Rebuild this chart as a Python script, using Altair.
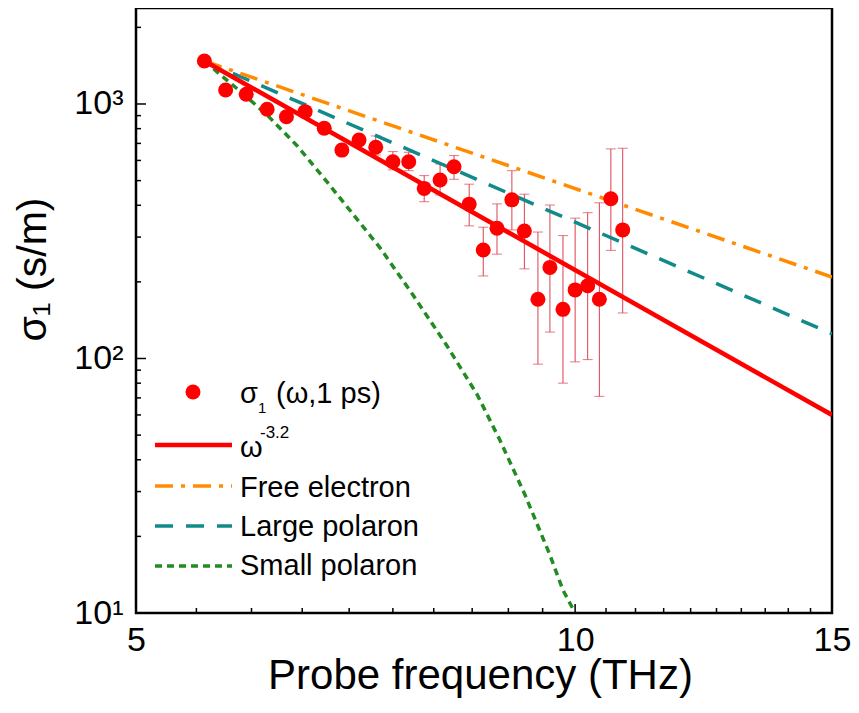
import altair as alt
import pandas as pd

# ---------------- data ----------------
freq = [5.57, 5.76, 5.95, 6.15, 6.34, 6.53, 6.73, 6.92, 7.11, 7.30, 7.50, 7.69, 7.88, 8.08,
        8.26, 8.46, 8.65, 8.84, 9.05, 9.23, 9.43, 9.61, 9.81, 10.00, 10.20, 10.39, 10.58, 10.78]
sigma = [1476, 1135, 1092, 953, 891, 933, 803, 659, 722, 676, 593, 593, 466, 503,
         567, 404, 267, 325, 420, 317, 171, 228, 156, 186, 193, 171, 424, 320]
sigma_hi = [1530, 1180, 1135, 990, 930, 975, 840, 690, 755, 749, 650, 646, 523, 581,
            627, 484, 328, 405, 547, 442, 314, 401, 304, 356, 374, 409, 666, 670]
sigma_lo = [1420, 1090, 1050, 915, 855, 895, 770, 630, 690, 630, 551, 547, 413, 439,
            506, 332, 211, 257, 320, 225, 95, 127, 80, 97, 99, 71, 266, 151]

fit_x = [5.57, 15.0]
fit_y = [1476, 60]
free_x = [5.57, 15.0]
free_y = [1476, 209]
large_x = [5.57, 15.0]
large_y = [1476, 125]
small_x = [5.57, 5.68, 5.89, 6.15, 6.45, 6.76, 7.04, 7.35, 7.74, 8.17, 8.57, 8.88, 9.24, 9.61, 9.81, 10.0]
small_y = [1476, 1340, 1125, 905, 684, 494, 370, 272, 178, 112, 71.9, 47.8, 29.1, 16.9, 12.3, 10]

x_major = [5, 10, 15]
x_tick_labels = ["5", "10", "15"]
x_minor = [5.5, 6, 6.5, 7, 7.5, 8, 8.5, 9, 9.5, 10.5, 11, 11.5, 12, 12.5, 13, 13.5, 14, 14.5]
y_major = [10, 100, 1000]
y_tick_labels = ["10¹", "10²", "10³"]
y_minor = [20, 30, 40, 50, 60, 70, 80, 90, 200, 300, 400, 500, 600, 700, 800, 900, 2000]

# ---------------- styling ----------------
W, H = 696, 605
FONT = "Liberation Sans, Arial, sans-serif"
RED = "#ff0000"
ERR = "#d8404e"
ORANGE = "#ff8c00"
TEAL = "#138a8a"
GREEN = "#228b22"

xs = alt.Scale(type="log", domain=[5, 15], nice=False, zero=False)
ys = alt.Scale(type="log", domain=[10, 2383], nice=False, zero=False)

pts = pd.DataFrame({"f": freq, "s": sigma, "hi": sigma_hi, "lo": sigma_lo})

label_expr = " : ".join(
    [f"datum.value == {v} ? '{t}'" for v, t in zip(y_major[:-1], y_tick_labels[:-1])]
) + f" : '{y_tick_labels[-1]}'"
x_label_expr = " : ".join(
    [f"datum.value == {v} ? '{t}'" for v, t in zip(x_major[:-1], x_tick_labels[:-1])]
) + f" : '{x_tick_labels[-1]}'"

x_axis = alt.Axis(values=x_major, labelExpr=x_label_expr, ticks=False, domain=False, grid=False,
                  labelFlush=False, labelOverlap=False,
                  labelFontSize=34, labelFont=FONT, labelColor="black", labelPadding=10,
                  title="Probe frequency (THz)", titleFontSize=42, titleFont=FONT,
                  titleFontWeight="normal", titleColor="black", titleBaseline="alphabetic",
                  titleY=75, titleX=344)
y_axis = alt.Axis(values=y_major, labelExpr=label_expr, ticks=False, domain=False, grid=False,
                  labelFlush=False, labelOverlap=False,
                  labelFontSize=34, labelFont=FONT, labelColor="black", labelPadding=13,
                  title="σ₁ (s/m)", titleFontSize=41, titleFont=FONT, titleFontWeight="normal",
                  titleColor="black", titleAngle=270, titleAlign="center",
                  titleBaseline="alphabetic", titleX=-91, titleY=261)


def X(field):
    return alt.X(field, scale=xs, axis=x_axis)


def Y(field):
    return alt.Y(field, scale=ys, axis=y_axis)


base = alt.Chart(pts)

err = base.mark_rule(color=ERR, strokeWidth=1).encode(x=X("f:Q"), y=Y("lo:Q"), y2="hi:Q")
cap_hi = base.mark_tick(color=ERR, orient="horizontal", size=10, thickness=1).encode(
    x=X("f:Q"), y=Y("hi:Q"))
cap_lo = base.mark_tick(color=ERR, orient="horizontal", size=10, thickness=1).encode(
    x=X("f:Q"), y=Y("lo:Q"))


def line(xv, yv, color, width, dash=None):
    df = pd.DataFrame({"f": xv, "s": yv})
    kw = dict(color=color, strokeWidth=width, clip=True)
    if dash:
        kw["strokeDash"] = dash
    return alt.Chart(df).mark_line(**kw).encode(x=X("f:Q"), y=Y("s:Q"))


DASH_FREE = [18, 8, 4, 8]
DASH_LARGE = [18, 13]
DASH_SMALL = [7, 5]

l_small = line(small_x, small_y, GREEN, 3.5, DASH_SMALL)
l_large = line(large_x, large_y, TEAL, 3.5, DASH_LARGE)
l_free = line(free_x, free_y, ORANGE, 3.5, DASH_FREE)
l_fit = line(fit_x, fit_y, RED, 4.5)

points = base.mark_point(filled=True, shape="circle", size=225, color=RED, opacity=1).encode(
    x=X("f:Q"), y=Y("s:Q"))

# inward ticks
xt_major = alt.Chart(pd.DataFrame({"f": x_major})).mark_rule(color="black", strokeWidth=1.5).encode(
    x=X("f:Q"), y=alt.value(H), y2=alt.value(H - 9))
xt_minor = alt.Chart(pd.DataFrame({"f": x_minor})).mark_rule(color="black", strokeWidth=1.5).encode(
    x=X("f:Q"), y=alt.value(H), y2=alt.value(H - 5))
yt_major = alt.Chart(pd.DataFrame({"s": y_major})).mark_rule(color="black", strokeWidth=1.5).encode(
    y=Y("s:Q"), x=alt.value(0), x2=alt.value(10))
yt_minor = alt.Chart(pd.DataFrame({"s": y_minor})).mark_rule(color="black", strokeWidth=1.5).encode(
    y=Y("s:Q"), x=alt.value(0), x2=alt.value(5))

# ---------------- legend ----------------
one = pd.DataFrame({"a": [0]})
LF = 29


def ltext(txt, x, y, size=LF):
    return alt.Chart(one).mark_text(text=txt, align="left", baseline="alphabetic", font=FONT,
                                    fontSize=size, color="black").encode(
        x=alt.value(x), y=alt.value(y))


def lline(y, color, width, dash=None):
    kw = dict(color=color, strokeWidth=width)
    if dash:
        kw["strokeDash"] = dash
    return alt.Chart(one).mark_rule(**kw).encode(x=alt.value(19), x2=alt.value(96), y=alt.value(y))


leg_dot = alt.Chart(one).mark_point(filled=True, shape="circle", size=225, color=RED, opacity=1).encode(
    x=alt.value(57), y=alt.value(384))
legend = [
    leg_dot,
    ltext("σ", 104, 395), ltext("1", 122, 405, 15), ltext("(ω,1 ps)", 140, 395),
    lline(437, RED, 4.5), ltext("ω", 104, 449), ltext("-3.2", 124, 430, 17),
    lline(478, ORANGE, 3.5, DASH_FREE), ltext("Free electron", 104, 489),
    lline(518, TEAL, 3.5, DASH_LARGE), ltext("Large polaron", 104, 528),
    lline(558, GREEN, 3.5, DASH_SMALL), ltext("Small polaron", 104, 567),
]

chart = alt.layer(
    err, cap_hi, cap_lo, l_small, l_large, l_free, l_fit,
    points, xt_major, xt_minor, yt_major, yt_minor, *legend
).properties(
    width=W, height=H,
    background="white",
    autosize=alt.AutoSizeParams(type="none"),
    padding={"left": 128, "top": 0, "right": 19, "bottom": 85},
).configure_view(stroke="black", strokeWidth=2.5)

chart.save("out.html", embed_options={"renderer": "svg", "actions": False})
